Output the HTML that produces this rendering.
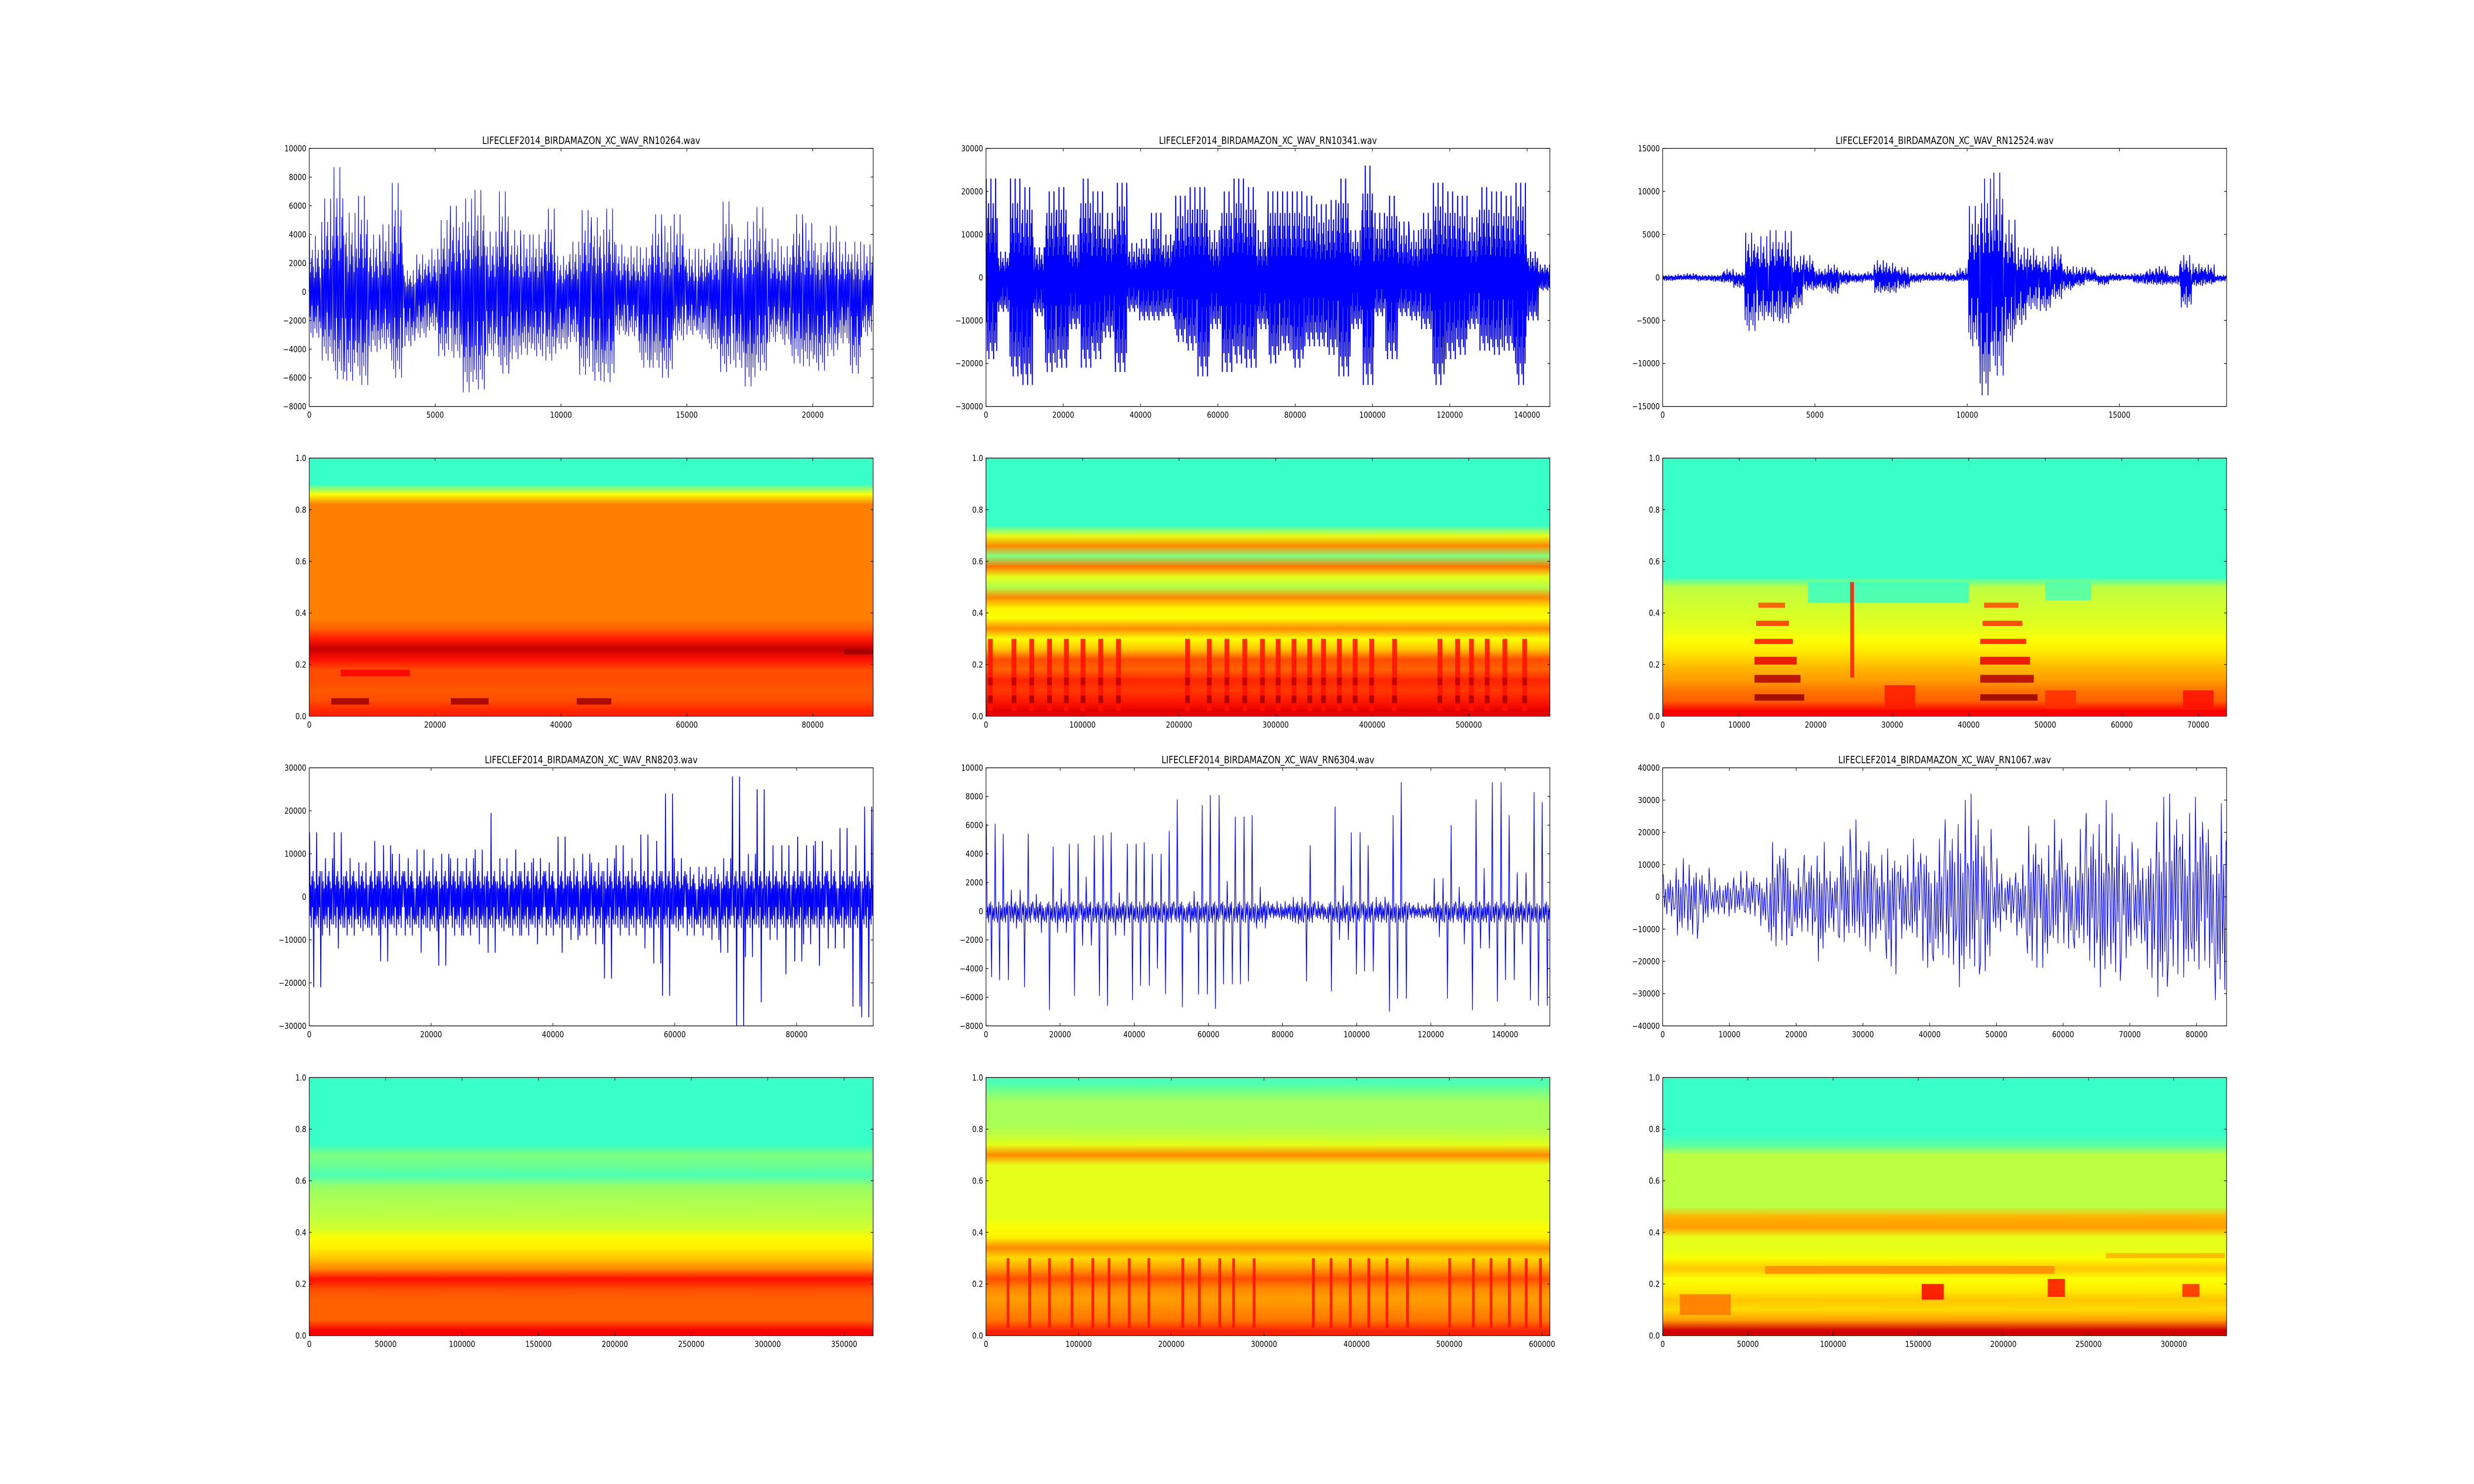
<!DOCTYPE html>
<html><head><meta charset="utf-8">
<style>
html,body{margin:0;padding:0;background:#fff;overflow:hidden;width:100%;height:100%;}
svg{display:block;width:100vw;height:100vh;}
text{font-family:"DejaVu Sans","Liberation Sans",sans-serif;}
</style></head>
<body>
<svg id="fig" xmlns="http://www.w3.org/2000/svg" viewBox="0 0 6000 3000" preserveAspectRatio="none">
<rect x="0" y="0" width="6000" height="3000" fill="#fff"/>
<defs id="defs"></defs>
</svg>
<script>
// ---------- data ----------
const titles = ["LIFECLEF2014_BIRDAMAZON_XC_WAV_RN10264.wav","LIFECLEF2014_BIRDAMAZON_XC_WAV_RN10341.wav","LIFECLEF2014_BIRDAMAZON_XC_WAV_RN12524.wav","LIFECLEF2014_BIRDAMAZON_XC_WAV_RN8203.wav","LIFECLEF2014_BIRDAMAZON_XC_WAV_RN6304.wav","LIFECLEF2014_BIRDAMAZON_XC_WAV_RN1067.wav"];
const waveLen = [22400,145900,18520,92560,152100,84500];
const waveYMin = [-8000,-30000,-15000,-30000,-8000,-40000];
const waveYMax = [10000,30000,15000,30000,10000,40000];
const waveYStep = [2000,10000,5000,10000,2000,10000];
const waveXStep = [5000,20000,5000,20000,20000,10000];
const waveDensity = [24,30,24,20,16,10];
const waveStroke = [1.5,2.6,2,2,1.6,1.5];
// typical core amplitude (thousands) per chart
const waveBase = [99,99,99,8,0.9,99];
// peak envelopes (thousands) per time bin
const wave1Hi=[3.9,6.5,8.7,5.5,6.7,4,4.7,7.6,1.5,2.6,3,5,6,6.5,7.1,4.2,7,4.3,4,4,5.8,2.5,3.5,5.7,5.2,5.8,3.3,3.2,3.1,5.4,4.6,5.4,3,3,3.4,6.3,3.8,4.9,5.9,3.7,3.2,5.4,4.8,3.4,4.6,3.5,3.5,3.3];
const wave1Lo=[-3.2,-4.8,-6.1,-6.2,-6.5,-4.2,-4,-6,-3.8,-3.2,-2.7,-4.5,-4.6,-7,-6.8,-4.5,-5.7,-4.7,-4.4,-4.5,-4.8,-4,-3.5,-5.8,-6.2,-6.3,-3,-3.1,-5.3,-5.3,-6,-3.4,-3,-3.3,-4,-5.6,-5.3,-6.6,-5.5,-3.5,-3.7,-5,-5.2,-5.5,-4.5,-3.6,-5.7,-3.1];
const wave2Hi=[23,6,23,21,7,20,21,10,23,20,15,22,8,9,15,10,19,21,21,11,20,23,21,11,20,20,20,19,17,18,23,11,26,15,19,13,11,15,22,20,19,14,21,20,19,22,6,3];
const wave2Lo=[-19,-8,-23,-25,-9,-22,-21,-12,-21,-19,-14,-22,-8,-10,-10,-9,-15,-17,-23,-12,-22,-20,-21,-12,-20,-17,-21,-16,-16,-18,-23,-12,-25,-9,-19,-9,-10,-12,-25,-19,-18,-12,-17,-18,-17,-25,-10,-3];
const wave3Hi=[0.3,0.4,0.5,0.3,0.3,1,0.6,5.2,4.8,5.5,5.4,2.5,2.6,1,1.5,0.8,0.5,0.7,2,1.7,1.2,0.5,0.6,0.6,0.5,1.1,8.3,11.5,12.2,6.7,3.5,3.4,2.5,3.6,1.3,1.2,1.2,0.3,0.5,0.4,0.5,1,1.3,0.3,2.6,1.6,1.5,0.3];
const wave3Lo=[-0.4,-0.3,-0.3,-0.4,-0.5,-0.6,-1.2,-6.2,-5,-5.1,-5.3,-3.6,-1.5,-1.3,-1.9,-0.8,-0.6,-0.4,-1.8,-1.8,-1.3,-0.6,-0.4,-0.4,-0.5,-0.4,-8,-13.7,-11.4,-7.5,-5.5,-3.7,-3.9,-2.5,-1.5,-1,-0.5,-0.9,-0.4,-0.3,-0.7,-0.8,-0.9,-0.8,-3.5,-1,-0.8,-0.5];
const wave4Hi=[15,9,15,9,8,13,12,10,9,11,9,10,9,9,11,19.5,9,11,8,9,8,14,9,10,8,9,12,9,14.5,13,24,9,7,7,7,9,28,10,25,12,12,14,12,13,11,16,12,21];
const wave4Lo=[-21,-9,-12,-9,-8,-9,-15,-9,-9,-13,-8,-16,-9,-9,-11,-13,-8,-9,-9,-11,-9,-13,-10,-9,-11,-19,-9,-9,-12,-15.5,-23,-8,-9,-9,-10,-13,-30,-14,-24.5,-10,-18,-15,-11,-16,-12,-12,-25.5,-28];
const wave5Hi=[6.1,5.4,1.5,5.4,1.2,4.5,1.6,4.7,2.4,5.3,5.5,1.3,4.7,4.8,4,5.6,7.8,1.4,7.4,8.1,2.1,6.6,6.7,1.7,0.7,0.7,1,4.6,0.7,7.3,1.8,5.5,4.6,1,6.7,9,0.6,0.5,2.3,6,1.7,7.8,3,9,6.7,2.7,8.3,7.6];
const wave5Lo=[-4.6,-4.8,-1.2,-5.3,-1.5,-6.9,-1.5,-5.9,-2.4,-5.9,-6.6,-1.7,-6.2,-5.2,-4,-5.8,-6.7,-1.5,-5.8,-6.8,-5.1,-5.1,-4.9,-1.2,-0.5,-0.6,-0.9,-4.9,-0.6,-5.6,-2,-4.4,-4.2,-0.8,-7,-6.1,-0.5,-0.5,-1.8,-6.1,-2.3,-6.9,-2.6,-6.3,-4.8,-2.3,-6.2,-6.6];
const wave6Hi=[7,12,10,9,6,6,8,8,6,17,20,9,13,17,8,21,24,23,13,15,13,18,17,18,24,30,32,21,12,8,10,22,16,24,14,21,26,30,26,17,15,16,31,32,26,31,28,29];
const wave6Lo=[-6,-12,-13,-8,-6,-6,-5,-6,-9,-17,-15,-12,-12,-20,-12,-14,-14,-17,-13,-24,-13,-14,-22,-20,-21,-28,-24,-23,-12,-8,-12,-22,-22,-16,-16,-16,-22,-28,-26,-19,-16,-25,-31,-24,-25,-25,-22,-32];

// spectrograms: time extent, x tick step, 25 frequency-row jet levels (bottom -> top)
const specLen = [89600,584000,73700,369000,608500,331000];
const specXStep = [20000,100000,10000,50000,100000,50000];
const spec1Rows=[0.84,0.8,0.79,0.8,0.8,0.86,0.93,0.85,0.78,0.75,0.75,0.75,0.75,0.75,0.75,0.75,0.75,0.75,0.75,0.75,0.75,0.62,0.43,0.43,0.43];
const spec2Rows=[0.9,0.85,0.82,0.84,0.78,0.8,0.68,0.62,0.74,0.62,0.64,0.74,0.55,0.6,0.76,0.5,0.74,0.6,0.43,0.43,0.43,0.43,0.43,0.43,0.43];
const spec3Rows=[0.88,0.78,0.76,0.72,0.7,0.67,0.64,0.62,0.6,0.59,0.58,0.57,0.56,0.43,0.43,0.43,0.43,0.43,0.43,0.43,0.43,0.43,0.43,0.43,0.43];
const spec4Rows=[0.88,0.78,0.78,0.78,0.8,0.86,0.74,0.68,0.64,0.62,0.58,0.56,0.55,0.54,0.52,0.45,0.48,0.5,0.43,0.43,0.43,0.43,0.43,0.43,0.43];
const spec5Rows=[0.84,0.76,0.74,0.72,0.74,0.8,0.72,0.66,0.74,0.64,0.62,0.6,0.6,0.6,0.6,0.6,0.6,0.74,0.6,0.56,0.54,0.54,0.54,0.5,0.45];
const spec6Rows=[0.92,0.72,0.66,0.68,0.64,0.62,0.68,0.62,0.6,0.6,0.72,0.7,0.56,0.56,0.56,0.56,0.56,0.56,0.46,0.43,0.43,0.43,0.43,0.43,0.43];
// events: [tStart, tEnd, fLow, fHigh, level]
const spec1Events=[[3500,9500,0.045,0.07,0.97],[22500,28500,0.045,0.07,0.97],[42500,48000,0.045,0.07,0.97],[5000,16000,0.155,0.18,0.88],[85000,89600,0.24,0.26,0.97]];
const spec2ChirpTimes=[4500,29000,47400,65800,83300,100500,118800,137200,208700,231200,249500,268000,286300,302600,319000,335300,349600,366000,382300,399400,423100,470100,488400,502700,519100,537400,557900];
const spec3Events=[[19000,40000,0.44,0.52,0.43],[50000,56000,0.45,0.52,0.45],
[12000,18500,0.06,0.085,0.98],[12000,18000,0.13,0.16,0.95],[12000,17500,0.2,0.23,0.9],[12000,17000,0.28,0.3,0.86],[12200,16500,0.35,0.37,0.83],[12500,16000,0.42,0.44,0.8],
[41500,49000,0.06,0.085,0.98],[41500,48500,0.13,0.16,0.95],[41500,48000,0.2,0.23,0.9],[41500,47500,0.28,0.3,0.86],[41800,47000,0.35,0.37,0.83],[42000,46500,0.42,0.44,0.8],
[29000,33000,0.03,0.12,0.85],[50000,54000,0.03,0.1,0.83],[68000,72000,0.03,0.1,0.86],[24500,25000,0.15,0.52,0.85]];
const spec5StreakTimes=[23800,47200,68500,92800,115300,132800,154500,175700,212300,230200,252300,267200,289300,353200,372300,393100,413100,432700,454800,500300,525900,545000,564600,582900,598300];
const spec6Events=[[152000,165000,0.14,0.2,0.88],[226000,236000,0.15,0.22,0.86],[305000,315000,0.15,0.2,0.84],[10000,40000,0.08,0.16,0.76],[60000,230000,0.24,0.27,0.74],[260000,330000,0.3,0.32,0.7]];

// ---------- layout ----------
const SVGNS="http://www.w3.org/2000/svg";
const fig=document.getElementById('fig');
const defs=document.getElementById('defs');
const colL=[750,2391.2,4032.4], AW=1367.6;
const rowT=[300,926.1,1552.2,2178.3], AH=521.7;
const pattern=[1,-0.55,0.35,-0.9,0.6,-0.3,0.75,-1,0.45,-0.65,0.25,-0.8];

function el(tag,attrs,parent){const e=document.createElementNS(SVGNS,tag);for(const k in attrs)e.setAttribute(k,attrs[k]);(parent||fig).appendChild(e);return e;}
function jet(v){const c=x=>Math.max(0,Math.min(1,x));const r=c(1.5-Math.abs(4*v-3)),g=c(1.5-Math.abs(4*v-2)),b=c(1.5-Math.abs(4*v-1));return `rgb(${Math.round(r*255)},${Math.round(g*255)},${Math.round(b*255)})`;}
function fmt(v,dec){let s=dec?v.toFixed(1):String(Math.round(v));if(v<0)s='\u2212'+s.slice(1);return s;}

function axesFrame(g,x0,y0,xmax,xstep,ymin,ymax,ystep,dec,name){
  const sx=v=>x0+v/xmax*AW, sy=v=>y0+AH-(v-ymin)/(ymax-ymin)*AH;
  const tg=el('g',{},g);
  
  
  for(let v=0;v<=xmax+1e-9;v+=xstep){
    const x=sx(v);
    el('line',{x1:x,y1:y0+AH,x2:x,y2:y0+AH-6,stroke:'#000','stroke-width':1.3},tg);
    el('line',{x1:x,y1:y0,x2:x,y2:y0+6,stroke:'#000','stroke-width':1.3},tg);
    const t=el('text',{x:x,y:y0+AH+23,'font-size':16.7,'text-anchor':'middle',fill:'#000'},tg);
    
    
    t.textContent=fmt(v,false);
  }
  const n=Math.round((ymax-ymin)/ystep);
  for(let i=0;i<=n;i++){
    const v=ymin+i*ystep, y=sy(v);
    el('line',{x1:x0,y1:y,x2:x0+6,y2:y,stroke:'#000','stroke-width':1.3},tg);
    el('line',{x1:x0+AW,y1:y,x2:x0+AW-6,y2:y,stroke:'#000','stroke-width':1.3},tg);
    const t=el('text',{x:x0-7,y:y+6,'font-size':16.7,'text-anchor':'end',fill:'#000'},tg);
    
    
    t.textContent=fmt(v,dec);
  }
  const b=el('rect',{x:x0,y:y0,width:AW,height:AH,fill:'none',stroke:'#000','stroke-width':1.4},g);
  
  
}

function drawWave(idx,hiK,loK){
  const x0=colL[idx%3], y0=rowT[idx<3?0:2];
  const g=el('g',{});
  
  
  const xmax=waveLen[idx], ymin=waveYMin[idx], ymax=waveYMax[idx];
  const sx=v=>x0+v/xmax*AW, sy=v=>y0+AH-(v-ymin)/(ymax-ymin)*AH;
  const nb=hiK.length, bw=xmax/nb, n=waveDensity[idx], base=waveBase[idx];
  const pts=[];
  for(let i=0;i<nb;i++){
    for(let j=0;j<n;j++){
      const m=pattern[(j+i*5)%pattern.length];
      const full=Math.abs(m)>0.95;
      const hi=full?hiK[i]:Math.min(hiK[i],base);
      const lo=full?loK[i]:Math.max(loK[i],-base);
      const v=m>0?m*hi*1000:-m*lo*1000;
      pts.push(sx(i*bw+(j+0.5)/n*bw).toFixed(1)+','+sy(v).toFixed(1));
    }
  }
  const clip=el('clipPath',{id:'clipw'+idx},g);
  el('rect',{x:x0,y:y0,width:AW,height:AH},clip);
  const p=el('polyline',{points:pts.join(' '),fill:'none',stroke:'#0000ff','stroke-width':waveStroke[idx],'stroke-linejoin':'miter','clip-path':'url(#clipw'+idx+')'},g);
  
  
  axesFrame(g,x0,y0,xmax,waveXStep[idx],ymin,ymax,waveYStep[idx],false,'waveform-'+(idx+1));
  const t=el('text',{x:x0+AW/2,y:y0-9,'font-size':20,'text-anchor':'middle',fill:'#000'},g);
  
  
  t.textContent=titles[idx];
}

function drawSpec(idx,rows,events){
  const x0=colL[idx%3], y0=rowT[idx<3?1:3];
  const g=el('g',{});
  
  
  const xmax=specLen[idx];
  const sx=v=>x0+v/xmax*AW, sy=v=>y0+AH-v*AH;
  const nr=rows.length;
  const grad=el('linearGradient',{id:'sg'+idx,x1:0,y1:1,x2:0,y2:0},defs);
  for(let k=0;k<nr;k++){
    el('stop',{offset:((k+0.5)/nr).toFixed(4),'stop-color':jet(rows[k])},grad);
  }
  const bg=el('rect',{x:x0,y:y0,width:AW,height:AH,fill:'url(#sg'+idx+')'},g);
  
  
  for(const e of events){
    const r=el('rect',{x:sx(e[0]),y:sy(e[3]),width:Math.max(2,sx(e[1])-sx(e[0])),height:sy(e[2])-sy(e[3]),fill:jet(e[4]),opacity:0.85},g);
    
    
  }
  axesFrame(g,x0,y0,xmax,specXStep[idx],0,1,0.2,true,'spectrogram-'+(idx+1));
}

drawWave(0,wave1Hi,wave1Lo);
drawWave(1,wave2Hi,wave2Lo);
drawWave(2,wave3Hi,wave3Lo);
drawWave(3,wave4Hi,wave4Lo);
drawWave(4,wave5Hi,wave5Lo);
drawWave(5,wave6Hi,wave6Lo);

const spec2Events=[];
for(const t of spec2ChirpTimes){spec2Events.push([t-2500,t+2500,0.02,0.3,0.86]);spec2Events.push([t-2500,t+2500,0.05,0.08,0.96]);spec2Events.push([t-2500,t+2500,0.12,0.15,0.94]);}
const spec5Events=[];
for(const t of spec5StreakTimes){spec5Events.push([t-1500,t+1500,0.03,0.3,0.86]);}
const spec4Events=[];

drawSpec(0,spec1Rows,spec1Events);
drawSpec(1,spec2Rows,spec2Events);
drawSpec(2,spec3Rows,spec3Events);
drawSpec(3,spec4Rows,spec4Events);
drawSpec(4,spec5Rows,spec5Events);
drawSpec(5,spec6Rows,spec6Events);
</script>
</body></html>
